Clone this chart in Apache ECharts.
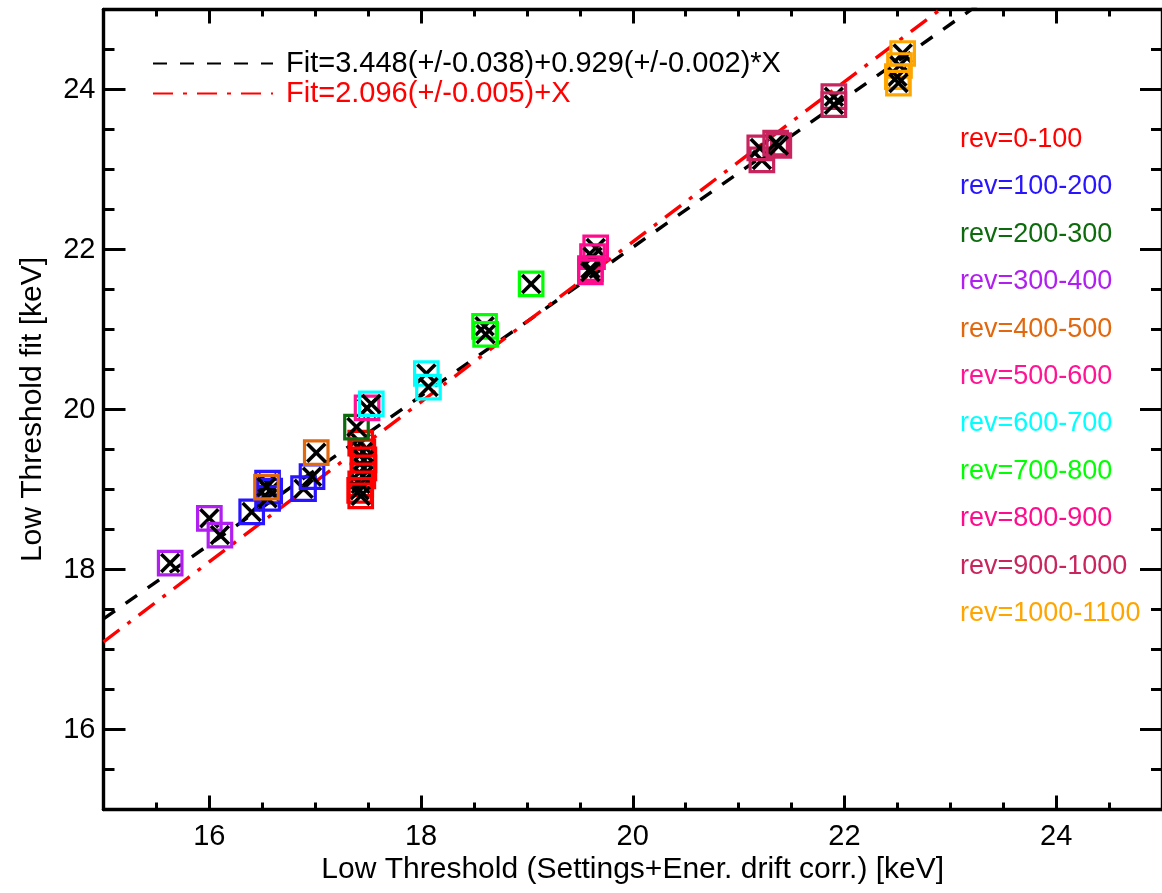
<!DOCTYPE html>
<html>
<head>
<meta charset="utf-8">
<script src="https://cdn.jsdelivr.net/npm/echarts@6/dist/echarts.min.js"></script>
<style>
  html, body { margin: 0; padding: 0; background: #fff; }
  #chart { width: 1162px; height: 893px; }
</style>
</head>
<body>
<div id="chart"></div>
<script>
// ---- data ----
const revLabels = ['rev=0-100', 'rev=100-200', 'rev=200-300', 'rev=300-400', 'rev=400-500',
  'rev=500-600', 'rev=600-700', 'rev=700-800', 'rev=800-900', 'rev=900-1000', 'rev=1000-1100'];
const revColors = ['#ff0000', '#2814ff', '#0d6b0d', '#b01ef0', '#e2680e',
  '#ff1493', '#00ffff', '#00ff00', '#ff0c8e', '#c8255f', '#ffa500'];

// settings threshold (x) and fitted threshold (y) per revolution range, keV
const rev0X = [17.43, 17.45, 17.46, 17.46, 17.45, 17.43, 17.42, 17.43];
const rev0Y = [19.58, 19.47, 19.37, 19.27, 19.17, 19.07, 18.99, 18.92];
const rev100X = [16.40, 16.55, 16.57, 16.55, 16.89, 16.97];
const rev100Y = [18.72, 19.08, 18.98, 18.89, 19.01, 19.16];
const rev200X = [17.39];
const rev200Y = [19.78];
const rev300X = [15.63, 16.00, 16.10];
const rev300Y = [18.08, 18.64, 18.43];
const rev400X = [16.54, 17.01];
const rev400Y = [19.03, 19.46];
const rev500X = [17.49];
const rev500Y = [20.02];
const rev600X = [17.53, 18.05, 18.07];
const rev600Y = [20.07, 20.45, 20.28];
const rev700X = [18.60, 18.61, 19.04];
const rev700Y = [21.04, 20.94, 21.57];
const rev800X = [19.65, 19.62, 19.60, 19.60];
const rev800Y = [22.02, 21.91, 21.76, 21.72];
const rev900X = [21.22, 21.20, 21.35, 21.38, 21.90, 21.90];
const rev900Y = [23.12, 23.27, 23.33, 23.30, 23.91, 23.81];
const rev1000X = [22.55, 22.52, 22.50, 22.51];
const rev1000Y = [24.45, 24.30, 24.16, 24.08];

const groupX = [rev0X, rev100X, rev200X, rev300X, rev400X, rev500X, rev600X, rev700X, rev800X, rev900X, rev1000X];
const groupY = [rev0Y, rev100Y, rev200Y, rev300Y, rev400Y, rev500Y, rev600Y, rev700Y, rev800Y, rev900Y, rev1000Y];

// linear fits: y = intercept + slope * x
const fitNames = ['Fit=3.448(+/-0.038)+0.929(+/-0.002)*X', 'Fit=2.096(+/-0.005)+X'];
const fitIntercepts = [3.448, 2.096];
const fitSlopes = [0.929, 1.0];
const fitColors = ['#000000', '#ff0000'];

// axis ticks
const xMajorTicks = [16, 18, 20, 22, 24];
const yMajorTicks = [16, 18, 20, 22, 24];
const axisMin = 15, axisMax = 25;

// ---- chart ----
const FONT = '"Liberation Sans", Arial, Helvetica, sans-serif';
const BOX = 23.5;   // marker square
const ARM = 9;      // half-size of the cross
const chart = echarts.init(document.getElementById('chart'), null, { renderer: 'canvas' });

function markerSeries(idx) {
  const color = revColors[idx];
  return {
    type: 'custom',
    name: revLabels[idx],
    xAxisIndex: 0, yAxisIndex: 0,
    data: groupX[idx].map((x, i) => [x, groupY[idx][i]]),
    z: 3,
    renderItem(params, api) {
      const p = api.coord([api.value(0), api.value(1)]);
      const h = BOX / 2;
      return {
        type: 'group',
        children: [
          { type: 'rect', shape: { x: p[0] - h, y: p[1] - h, width: BOX, height: BOX },
            style: { fill: 'none', stroke: color, lineWidth: 3.2 } },
          { type: 'line', shape: { x1: p[0] - ARM, y1: p[1] - ARM, x2: p[0] + ARM, y2: p[1] + ARM },
            style: { stroke: '#000', lineWidth: 3.6 } },
          { type: 'line', shape: { x1: p[0] - ARM, y1: p[1] + ARM, x2: p[0] + ARM, y2: p[1] - ARM },
            style: { stroke: '#000', lineWidth: 3.6 } }
        ]
      };
    }
  };
}

function fitSeries(k) {
  return {
    type: 'line',
    name: fitNames[k],
    xAxisIndex: 0, yAxisIndex: 0,
    data: [axisMin, axisMax].map(x => [x, fitIntercepts[k] + fitSlopes[k] * x]),
    symbol: 'none',
    showSymbol: false,
    clip: true,
    z: 2,
    lineStyle: {
      color: fitColors[k],
      width: 3.4,
      type: k === 0 ? [14, 13] : [20, 10, 4, 10]
    },
    itemStyle: { color: fitColors[k] }
  };
}

const minorTickX = { inside: true, length: 7, lineStyle: { color: '#000', width: 3 } };
const majorTickX = { inside: true, length: 14, customValues: xMajorTicks, lineStyle: { color: '#000', width: 3 } };
const minorTickY = { inside: true, length: 11, lineStyle: { color: '#000', width: 3 } };
const majorTickY = { inside: true, length: 22, customValues: yMajorTicks, lineStyle: { color: '#000', width: 3 } };
const axisLineStyle = { show: true, onZero: false, lineStyle: { color: '#000', width: 3.4 } };
const labelStyle = { color: '#000', fontFamily: FONT, fontSize: 29 };

const option = {
  backgroundColor: '#ffffff',
  animation: false,
  grid: { left: 103.5, top: 9.5, width: 1065, height: 800, containLabel: false },
  legend: {
    orient: 'vertical',
    left: 147, top: 44,
    itemWidth: 120, itemHeight: 14, itemGap: 1,
    selectedMode: false,
    itemStyle: { opacity: 0 },
    data: fitNames.map((n, k) => ({ name: n, textStyle: { color: fitColors[k] } })),
    textStyle: { fontFamily: FONT, fontSize: 29, padding: [0, 0, 0, 8] }
  },
  xAxis: [
    { type: 'value', position: 'bottom', min: axisMin, max: axisMax, interval: 0.5,
      axisLine: axisLineStyle, axisTick: minorTickX, axisLabel: { show: false }, splitLine: { show: false },
      name: 'Low Threshold (Settings+Ener. drift corr.) [keV]', nameLocation: 'middle', nameGap: 45,
      nameTextStyle: { color: '#000', fontFamily: FONT, fontSize: 30 } },
    { type: 'value', position: 'bottom', min: axisMin, max: axisMax,
      axisLine: { show: false }, axisTick: majorTickX,
      axisLabel: Object.assign({ customValues: xMajorTicks, margin: 13 }, labelStyle), splitLine: { show: false } },
    { type: 'value', position: 'top', min: axisMin, max: axisMax, interval: 0.5,
      axisLine: axisLineStyle, axisTick: minorTickX, axisLabel: { show: false }, splitLine: { show: false } },
    { type: 'value', position: 'top', min: axisMin, max: axisMax,
      axisLine: { show: false }, axisTick: majorTickX, axisLabel: { show: false }, splitLine: { show: false } }
  ],
  yAxis: [
    { type: 'value', position: 'left', min: axisMin, max: axisMax, interval: 0.5,
      axisLine: axisLineStyle, axisTick: minorTickY, axisLabel: { show: false }, splitLine: { show: false },
      name: 'Low Threshold fit [keV]', nameLocation: 'middle', nameGap: 56, nameRotate: 90,
      nameTextStyle: { color: '#000', fontFamily: FONT, fontSize: 30 } },
    { type: 'value', position: 'left', min: axisMin, max: axisMax,
      axisLine: { show: false }, axisTick: majorTickY,
      axisLabel: Object.assign({ customValues: yMajorTicks, margin: 8 }, labelStyle), splitLine: { show: false } },
    { type: 'value', position: 'right', min: axisMin, max: axisMax, interval: 0.5,
      axisLine: axisLineStyle, axisTick: minorTickY, axisLabel: { show: false }, splitLine: { show: false } },
    { type: 'value', position: 'right', min: axisMin, max: axisMax,
      axisLine: { show: false }, axisTick: majorTickY, axisLabel: { show: false }, splitLine: { show: false } }
  ],
  graphic: revLabels.map((t, i) => ({
    type: 'text',
    left: 960,
    top: 126 + i * 47.4,
    style: { text: t, fill: revColors[i], font: '27px ' + FONT }
  })),
  series: [
    ...revLabels.map((_, i) => markerSeries(i)),
    ...fitNames.map((_, k) => fitSeries(k))
  ]
};

chart.setOption(option);
</script>
</body>
</html>
